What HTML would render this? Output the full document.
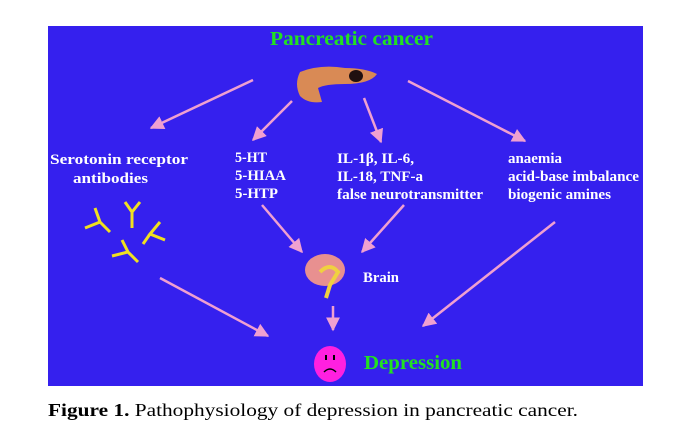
<!DOCTYPE html>
<html><head><meta charset="utf-8"><style>
body{margin:0;background:#fff;width:685px;height:433px;overflow:hidden;font-family:"Liberation Serif",serif}
</style></head><body>
<svg width="685" height="433" xmlns="http://www.w3.org/2000/svg" font-family="Liberation Serif, serif">
<defs>
<marker id="b" viewBox="0 0 10 10" refX="9" refY="5" markerWidth="14" markerHeight="14" orient="auto" markerUnits="userSpaceOnUse"><path d="M0,0 L10,5 L0,10 z" fill="#f0a0d0"/></marker></defs>
<rect x="48" y="26" width="595" height="360" fill="#3520ee"/>
<text x="270" y="45" font-size="20" font-weight="bold" fill="#22e022" textLength="163" lengthAdjust="spacingAndGlyphs">Pancreatic  cancer</text>
<path d="M300,72 Q320,64 345,68 Q365,68 377,74 Q370,84 345,84 Q325,84 318,88 L322,102 Q308,104 300,96 Q294,84 300,72z" fill="#d98a55"/>
<ellipse cx="356" cy="76" rx="7" ry="6" fill="#201010"/>
<g stroke="#f0a0d0" stroke-width="2.5" fill="none" marker-end="url(#b)">
<line x1="253" y1="80" x2="151" y2="128"/>
<line x1="292" y1="101" x2="253" y2="140"/>
<line x1="364" y1="98" x2="381" y2="142"/>
<line x1="408" y1="81" x2="525" y2="141"/>
<line x1="262" y1="205" x2="302" y2="252"/>
<line x1="404" y1="205" x2="362" y2="252"/>
<line x1="555" y1="222" x2="423" y2="326"/>
<line x1="160" y1="278" x2="268" y2="336"/>
<line x1="333" y1="306" x2="333" y2="330"/>
</g>
<g font-size="15" font-weight="bold" fill="#fff">
<text x="50" y="164" textLength="138" lengthAdjust="spacingAndGlyphs">Serotonin receptor</text>
<text x="73" y="183" textLength="75" lengthAdjust="spacingAndGlyphs">antibodies</text>
<text x="235" y="162" textLength="32" lengthAdjust="spacingAndGlyphs">5-HT</text>
<text x="235" y="180" textLength="51" lengthAdjust="spacingAndGlyphs">5-HIAA</text>
<text x="235" y="198" textLength="43" lengthAdjust="spacingAndGlyphs">5-HTP</text>
<text x="337" y="163" textLength="77" lengthAdjust="spacingAndGlyphs">IL-1β, IL-6,</text>
<text x="337" y="181" textLength="86" lengthAdjust="spacingAndGlyphs">IL-18, TNF-a</text>
<text x="337" y="199" textLength="146" lengthAdjust="spacingAndGlyphs">false neurotransmitter</text>
<text x="508" y="163" textLength="54" lengthAdjust="spacingAndGlyphs">anaemia</text>
<text x="508" y="181" textLength="131" lengthAdjust="spacingAndGlyphs">acid-base imbalance</text>
<text x="508" y="199" textLength="103" lengthAdjust="spacingAndGlyphs">biogenic amines</text>
<text x="363" y="282" textLength="36" lengthAdjust="spacingAndGlyphs">Brain</text>
</g>
<g stroke="#f0e020" stroke-width="3" fill="none">
<path d="M95,208 L100,222 L85,228 M100,222 L110,232"/>
<path d="M125,202 L132,212 L140,202 M132,212 L132,228"/>
<path d="M160,222 L150,234 L165,240 M150,234 L143,244"/>
<path d="M122,240 L128,252 L112,256 M128,252 L138,262"/>
</g>
<ellipse cx="325" cy="270" rx="20" ry="16" fill="#e89090"/>
<path d="M320,272 Q330,262 338,272 L330,285 L326,298" stroke="#f0d040" stroke-width="4" fill="none"/>
<ellipse cx="330" cy="364" rx="16" ry="18" fill="#ff20e0"/>
<g fill="#000"><rect x="325" y="355" width="2" height="5"/><rect x="333" y="355" width="2" height="5"/></g>
<path d="M324,372 Q330,366 336,372" stroke="#000" stroke-width="1.5" fill="none"/>
<text x="364" y="369" font-size="20" font-weight="bold" fill="#22e022" textLength="98" lengthAdjust="spacingAndGlyphs">Depression</text>
<text x="48" y="416" font-size="18" fill="#000" textLength="530" lengthAdjust="spacingAndGlyphs"><tspan font-weight="bold">Figure 1.</tspan> Pathophysiology of depression in pancreatic cancer.</text>
</svg>
</body></html>
